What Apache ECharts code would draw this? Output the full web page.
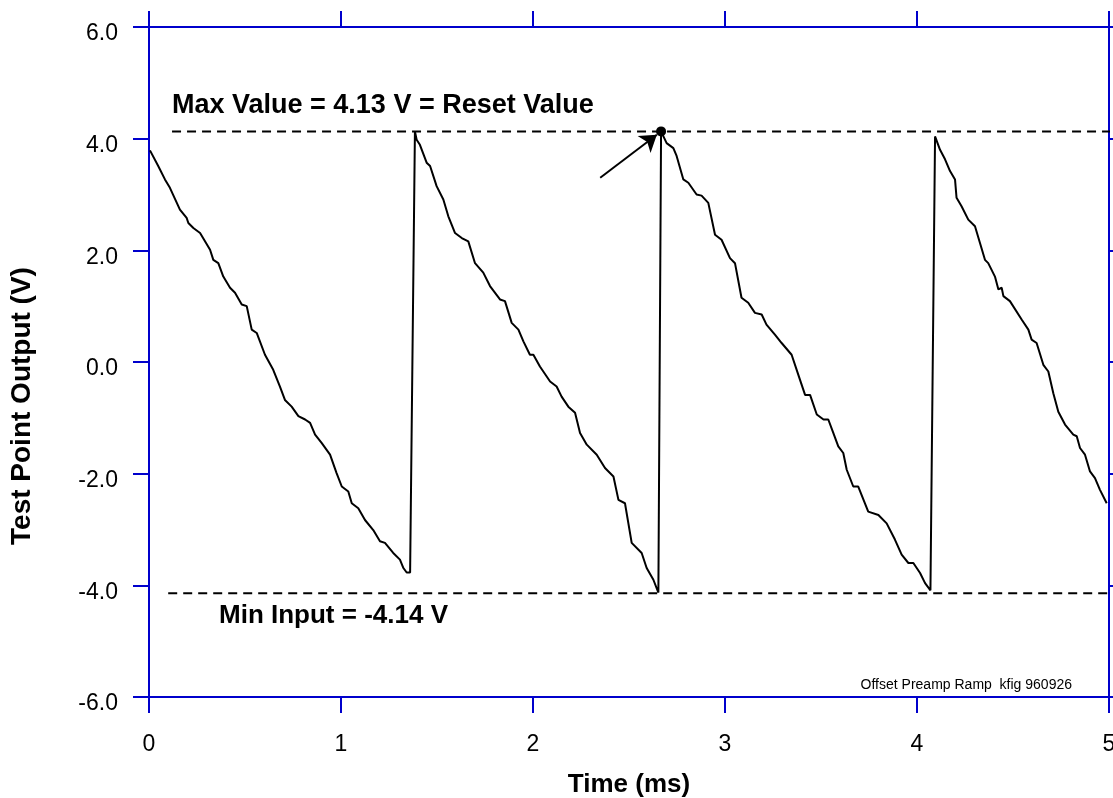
<!DOCTYPE html>
<html>
<head>
<meta charset="utf-8">
<script src="https://cdn.jsdelivr.net/npm/echarts@6/dist/echarts.min.js"></script>
<style>
  html, body { margin: 0; padding: 0; background: #fff; }
  #main { width: 1113px; height: 798px; }
</style>
</head>
<body>
<div id="main"></div>
<script>
// time in ms
var timeMs = [
  0.005, 0.048, 0.083, 0.109, 0.161, 0.196, 0.205, 0.231, 0.266, 0.318,
  0.335, 0.361, 0.387, 0.422, 0.448, 0.483, 0.509, 0.535, 0.561, 0.604,
  0.647, 0.682, 0.708, 0.743, 0.778, 0.813, 0.839, 0.865, 0.899, 0.943,
  0.977, 1.004, 1.038, 1.056, 1.090, 1.125, 1.168, 1.203, 1.229, 1.272,
  1.307, 1.325, 1.342, 1.360,
  1.385, 1.394, 1.411, 1.446, 1.464, 1.498, 1.533, 1.559, 1.594, 1.629,
  1.663, 1.698, 1.741, 1.776, 1.828, 1.854, 1.889, 1.924, 1.950, 1.984,
  2.002, 2.036, 2.089, 2.123, 2.149, 2.184, 2.219, 2.245, 2.280, 2.332,
  2.375, 2.419, 2.445, 2.479, 2.514, 2.566, 2.592, 2.627, 2.653,
  2.667, 2.696, 2.731, 2.748, 2.783, 2.809, 2.852, 2.878, 2.913, 2.948,
  2.982, 3.026, 3.052, 3.086, 3.121, 3.156, 3.191, 3.216, 3.260, 3.295,
  3.347, 3.382, 3.417, 3.443, 3.478, 3.513, 3.538, 3.564, 3.590, 3.616,
  3.634, 3.668, 3.694, 3.746, 3.799, 3.842, 3.885, 3.920, 3.955, 3.981,
  4.016, 4.042, 4.070,
  4.094, 4.120, 4.146, 4.172, 4.198, 4.206, 4.232, 4.267, 4.302, 4.328,
  4.354, 4.371, 4.406, 4.424, 4.441, 4.450, 4.484, 4.545, 4.580, 4.597,
  4.623, 4.658, 4.684, 4.710, 4.736, 4.771, 4.814, 4.832, 4.849, 4.875,
  4.901, 4.927, 4.953, 4.988
];
// test point output in V
var outputV = [
  3.79, 3.51, 3.27, 3.12, 2.73, 2.58, 2.49, 2.40, 2.31, 2.01,
  1.83, 1.77, 1.53, 1.33, 1.24, 1.03, 1.00, 0.58, 0.52, 0.13,
  -0.14, -0.44, -0.68, -0.80, -0.97, -1.03, -1.09, -1.30, -1.45, -1.66,
  -1.99, -2.23, -2.32, -2.53, -2.62, -2.83, -3.01, -3.21, -3.24, -3.42,
  -3.54, -3.69, -3.77, -3.77,
  4.13, 3.98, 3.89, 3.57, 3.51, 3.15, 2.91, 2.61, 2.31, 2.22,
  2.16, 1.77, 1.60, 1.36, 1.12, 1.09, 0.70, 0.58, 0.37, 0.13,
  0.13, -0.08, -0.35, -0.44, -0.62, -0.80, -0.91, -1.27, -1.48, -1.66,
  -1.90, -2.05, -2.47, -2.53, -3.24, -3.42, -3.69, -3.90, -4.13,
  4.13, 3.92, 3.83, 3.69, 3.27, 3.21, 3.00, 2.98, 2.85, 2.28,
  2.19, 1.86, 1.77, 1.15, 1.06, 0.88, 0.85, 0.67, 0.49, 0.34,
  0.13, -0.23, -0.59, -0.59, -0.94, -1.03, -1.03, -1.27, -1.51, -1.63,
  -1.93, -2.23, -2.23, -2.68, -2.74, -2.89, -3.18, -3.45, -3.60, -3.60,
  -3.78, -3.96, -4.09,
  4.04, 3.80, 3.63, 3.42, 3.27, 2.94, 2.79, 2.55, 2.43, 2.13,
  1.83, 1.77, 1.53, 1.30, 1.33, 1.18, 1.09, 0.76, 0.58, 0.40,
  0.34, -0.05, -0.17, -0.56, -0.89, -1.12, -1.30, -1.33, -1.54, -1.66,
  -1.96, -2.08, -2.29, -2.53
];

var maxValue = 4.13;     // reset value
var minInput = -4.14;
var maxLineX = [0.12, 5.03];
var minLineX = [0.10, 5.03];
var resetPoint = [2.667, 4.13];
var arrowFrom = [2.35, 3.30];
var arrowTo = [2.645, 4.07];

var xTicks = [0, 5, 1];   // min, max, interval
var yTicks = [-6, 6, 2];

var blue = '#0000CC';
var font = "'Liberation Sans', Arial, Helvetica, sans-serif";

var curve = timeMs.map(function (t, i) { return [t, outputV[i]]; });

var chartDom = document.getElementById('main');
var myChart = echarts.init(chartDom);

function edgeAxis(extra) {
  var base = {
    type: 'value',
    axisLine: { show: true, onZero: false, lineStyle: { color: blue, width: 2 } },
    axisTick: { show: true, inside: false, length: 16, lineStyle: { color: blue, width: 2 } },
    splitLine: { show: false }
  };
  return Object.assign(base, extra);
}

var option = {
  animation: false,
  backgroundColor: '#ffffff',
  grid: { left: 149, right: 4, top: 27, bottom: 101, outerBoundsMode: 'none', containLabel: false },
  xAxis: [
    edgeAxis({
      position: 'bottom',
      min: xTicks[0], max: xTicks[1], interval: xTicks[2],
      axisLabel: { color: '#000', fontSize: 23, fontFamily: font, margin: 36 },
      name: 'Time (ms)',
      nameLocation: 'middle',
      nameGap: 75,
      nameTextStyle: { color: '#000', fontSize: 26, fontWeight: 'bold', fontFamily: font }
    }),
    edgeAxis({
      position: 'top',
      min: xTicks[0], max: xTicks[1], interval: xTicks[2],
      axisLabel: { show: false }
    })
  ],
  yAxis: [
    edgeAxis({
      position: 'left',
      min: yTicks[0], max: yTicks[1], interval: yTicks[2],
      axisLabel: {
        color: '#000', fontSize: 23, fontFamily: font, margin: 31,
        verticalAlign: 'top', lineHeight: 14,
        formatter: function (v) { return v.toFixed(1); }
      }
    }),
    edgeAxis({
      position: 'right',
      min: yTicks[0], max: yTicks[1], interval: yTicks[2],
      axisLabel: { show: false }
    })
  ],
  graphic: [
    {
      type: 'text', rotation: Math.PI / 2, x: 22, y: 406,
      style: {
        text: 'Test Point Output (V)', fill: '#000',
        font: 'bold 28px ' + font, align: 'center', verticalAlign: 'middle'
      }
    },
    {
      type: 'text', x: 172, y: 106,
      style: {
        text: 'Max Value = 4.13 V = Reset Value', fill: '#000',
        font: 'bold 27px ' + font, align: 'left', verticalAlign: 'middle'
      }
    },
    {
      type: 'text', x: 219, y: 616,
      style: {
        text: 'Min Input = -4.14 V', fill: '#000',
        font: 'bold 26px ' + font, align: 'left', verticalAlign: 'middle'
      }
    },
    {
      type: 'text', x: 1072, y: 685,
      style: {
        text: 'Offset Preamp Ramp  kfig 960926', fill: '#000',
        font: '14px ' + font, align: 'right', verticalAlign: 'middle'
      }
    }
  ],
  series: [
    {
      name: 'max',
      type: 'line',
      clip: false,
      showSymbol: false,
      data: [[maxLineX[0], maxValue], [maxLineX[1], maxValue]],
      lineStyle: { color: '#000', width: 2, type: [9, 6] }
    },
    {
      name: 'min',
      type: 'line',
      clip: false,
      showSymbol: false,
      data: [[minLineX[0], minInput], [minLineX[1], minInput]],
      lineStyle: { color: '#000', width: 2, type: [9, 6] }
    },
    {
      name: 'ramp',
      type: 'line',
      showSymbol: false,
      data: curve,
      lineStyle: { color: '#000', width: 2 }
    },
    {
      name: 'reset',
      type: 'scatter',
      symbolSize: 10,
      itemStyle: { color: '#000', opacity: 1 },
      data: [resetPoint]
    },
    {
      name: 'arrow',
      type: 'lines',
      coordinateSystem: 'cartesian2d',
      symbol: ['none', 'arrow'],
      symbolSize: 16,
      lineStyle: { color: '#000', width: 2, opacity: 1 },
      data: [{ coords: [arrowFrom, arrowTo] }]
    }
  ]
};

option && myChart.setOption(option);
</script>
</body>
</html>
